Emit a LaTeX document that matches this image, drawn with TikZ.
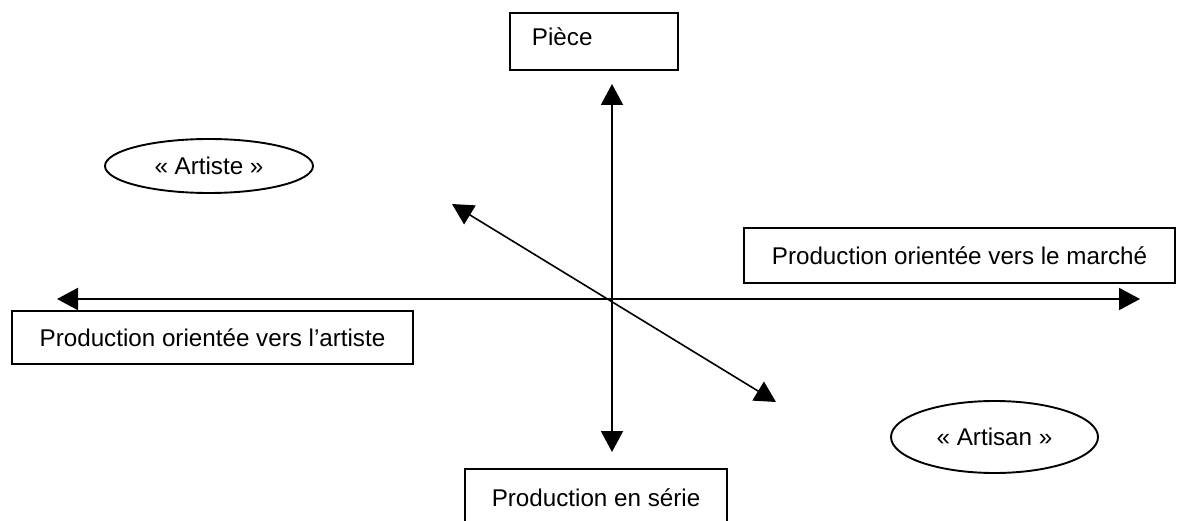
\documentclass[tikz,border=0pt]{standalone}
\usepackage{fontspec}
\setmainfont{Liberation Sans}
\usetikzlibrary{arrows.meta,shapes.geometric}
\begin{document}
\begin{tikzpicture}[x=1pt,y=-1pt,
  every node/.style={font=\fontsize{24.2}{29}\selectfont},
  box/.style={draw,line width=1.9pt,inner sep=0pt},
  oval/.style={draw,ellipse,line width=1.9pt,inner sep=0pt},
  axis/.style={line width=2pt,{Triangle[length=21pt,width=22pt]}-{Triangle[length=21pt,width=22pt]}},
  diag/.style={line width=1.6pt,{Triangle[length=21pt,width=22pt]}-{Triangle[length=21pt,width=22pt]}}]
\clip (0,0) rectangle (1185,521);
\fill[white] (0,0) rectangle (1185,521);
% boxes
\node[box,anchor=north west,text width=124pt,align=left,inner xsep=22pt,
      text height=33pt,text depth=24pt] (piece) at (509,12) {Pièce};
\node[box,minimum width=431pt,minimum height=55pt] (marche) at (959.5,255.5) {Production orientée vers le marché};
\node[box,minimum width=401pt,minimum height=53pt] (artiste) at (212.5,337.5) {Production orientée vers l’artiste};
\node[box,anchor=north,minimum width=262pt,minimum height=58pt] (serie) at (596,468) {Production en série};
% ellipses
\node[oval,minimum width=208pt,minimum height=54pt] (eartiste) at (209,166) {« Artiste »};
\node[oval,minimum width=207pt,minimum height=72pt] (eartisan) at (994.5,437) {« Artisan »};
% axes
\coordinate (L) at (57,299);
\coordinate (R) at (1140,299);
\coordinate (T) at (612,84);
\coordinate (B) at (612,452);
\coordinate (UL) at (452,204);
\coordinate (LR) at (776,402);
\draw[axis] (L) -- (R);
\draw[axis] (T) -- (B);
\draw[diag] (UL) -- (LR);
\end{tikzpicture}
\end{document}
